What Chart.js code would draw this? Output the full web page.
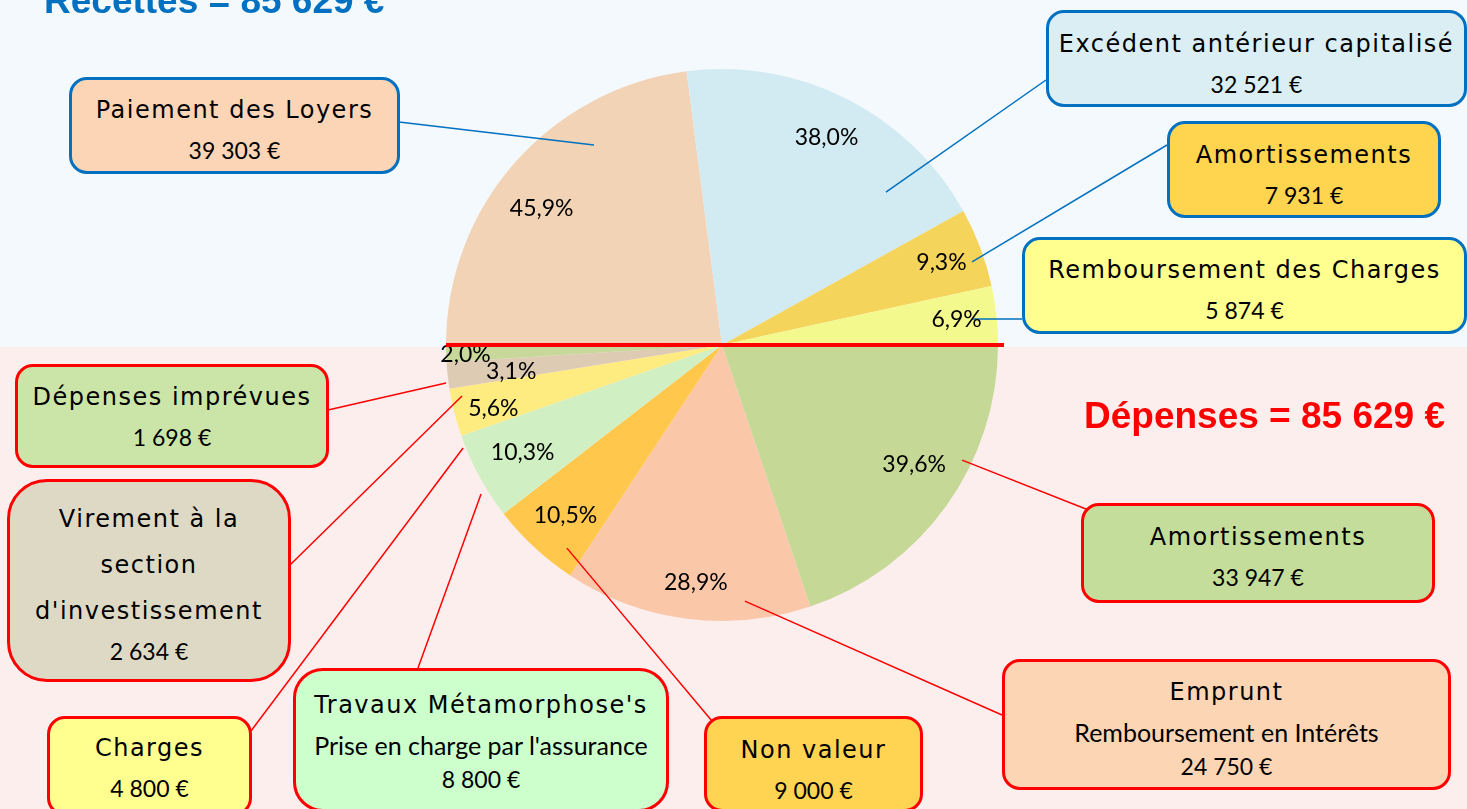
<!DOCTYPE html>
<html lang="fr">
<head>
<meta charset="utf-8">
<script src="https://cdn.jsdelivr.net/npm/chart.js@4/dist/chart.umd.min.js"></script>
<style>
  html, body { margin:0; padding:0; }
  body { width:1467px; height:809px; overflow:hidden; position:relative; font-family:'Lato', sans-serif; }
  .bg { position:absolute; left:0; width:1467px; }
  #c { position:absolute; left:0; top:0; }
  .box { position:absolute; box-sizing:border-box; border:3px solid; border-radius:18px; text-align:center; color:#000; }
  .hand { font-family:'DejaVu Sans', sans-serif; font-size:24px; letter-spacing:1.5px; line-height:46px; white-space:nowrap; }
  .sub { font-family:'Lato', sans-serif; font-size:25px; line-height:34px; white-space:nowrap; }
  .num { font-family:'Lato', sans-serif; font-size:23px; line-height:34px; white-space:nowrap; }
  .title { position:absolute; font-family:'Liberation Sans', Arial, sans-serif; font-weight:bold; font-size:37px; line-height:37px; white-space:nowrap; }
</style>
</head>
<body>
<div class="bg" style="top:0;height:347px;background:#F4F9FE"></div>
<div class="bg" style="top:347px;height:462px;background:#FDEEEE"></div>
<canvas id="c" width="1467" height="809"></canvas>
<div id="overlay"></div>
<script>
// ---------------- DATA ----------------
const recettesLabels = ['Paiement des Loyers', 'Excédent antérieur capitalisé', 'Amortissements', 'Remboursement des Charges'];
const recettesValues = [39303, 32521, 7931, 5874];
const recettesSubtitles = [null, null, null, null];

const depensesLabels = ['Amortissements', 'Emprunt', 'Non valeur', "Travaux Métamorphose's", 'Charges', "Virement à la section d'investissement", 'Dépenses imprévues'];
const depensesValues = [33947, 24750, 9000, 8800, 4800, 2634, 1698];
const depensesSubtitles = [null, 'Remboursement en Intérêts', null, "Prise en charge par l'assurance", null, null, null];

// ---------------- STYLES / LAYOUT ----------------
const recettesColors = ['#F2D3B6', '#D2EAF1', '#F5D45C', '#F4F98E'];
const depensesColors = ['#C6D896', '#FAC8A9', '#FFC84D', '#D0EFC2', '#FFEC80', '#DECBB4', '#C7D89A'];
const recettesBoxFill = ['#FBD5B5', '#DAEEF3', '#FFD54F', '#FFFF8F'];
const depensesBoxFill = ['#C4DD9A', '#FCD5B5', '#FFD452', '#CCFFCC', '#FFFF8F', '#DDD9C4', '#CBE5A8'];
const recettesLineColor = '#0070C0';
const depensesLineColor = '#FF0000';
// label placement: distance from centre (fraction of radius) and position within the slice's angle (0..1)
const recettesLabelR = [0.82, 0.84, 0.85, 0.855];
const recettesLabelT = [0.45, 0.5, 0.5, 0.5];
const depensesLabelR = [0.82, 0.866, 0.84, 0.82, 0.86, 0.77, 0.93];
const depensesLabelT = [0.447, 0.479, 0.48, 0.51, 0.36, 0.34, 0.39];
// callout boxes: position/size, leader anchor (fraction of radius from centre), leader end on box
const recettesBoxes = [
  {x:69,   y:77,  w:331, h:97,  pad:10, anchor:[-0.464,-0.725], end:[399,122]},
  {x:1046, y:10,  w:421, h:97,  pad:11, anchor:[0.594,-0.554],  end:[1046,80]},
  {x:1167, y:121, w:274, h:97,  pad:11, anchor:[0.906,-0.301],  end:[1167,145]},
  {x:1022, y:237, w:445, h:97,  pad:10, anchor:[0.906,-0.094],  end:[1022,319]}
];
const depensesBoxes = [
  {x:1081, y:503, w:354, h:100, pad:11, anchor:[0.870,0.417],   end:[1096,513]},
  {x:1002, y:659, w:449, h:131, pad:10, anchor:[0.083,0.928],   end:[1002,715]},
  {x:704,  y:716, w:219, h:96,  pad:11, anchor:[-0.562,0.736],  end:[717,727]},
  {x:293,  y:668, w:376, h:144, pad:14, r:30, anchor:[-0.873,0.540], end:[418,668]},
  {x:47,   y:716, w:205, h:100, pad:9,  anchor:[-0.938,0.373],  end:[251,731]},
  {x:7,    y:479, w:284, h:203, pad:17, r:40, wrap:245, anchor:[-0.942,0.185], end:[290,565]},
  {x:15,   y:364, w:314, h:104, pad:10, anchor:[-1.0,0.138],    end:[328,410]}
];

// ---------------- HELPERS ----------------
const sum = a => a.reduce((s, v) => s + v, 0);
const fmtEuro = n => String(n).replace(/\B(?=(\d{3})+(?!\d))/g, ' ') + ' €';
const fmtPct = (v, t) => (v / t * 100).toFixed(1).replace('.', ',') + '%';

const recTotal = sum(recettesValues);
const depTotal = sum(depensesValues);

const allValues = recettesValues.concat(depensesValues);
const allColors = recettesColors.concat(depensesColors);
const allLabels = recettesLabels.concat(depensesLabels);
const allTotals = recettesValues.map(() => recTotal).concat(depensesValues.map(() => depTotal));
const allLabelR = recettesLabelR.concat(depensesLabelR);
const allLabelT = recettesLabelT.concat(depensesLabelT);
const allBoxes = recettesBoxes.concat(depensesBoxes);
const allLineColors = recettesValues.map(() => recettesLineColor).concat(depensesValues.map(() => depensesLineColor));

// ---------------- OVERLAY HTML (titles + callouts) ----------------
const overlay = document.getElementById('overlay');
function addTitle(text, color, left, top) {
  const d = document.createElement('div');
  d.className = 'title';
  d.style.left = left + 'px'; d.style.top = top + 'px'; d.style.color = color;
  d.textContent = text;
  overlay.appendChild(d);
}
addTitle('Recettes = ' + fmtEuro(recTotal), '#0070C0', 44, -18);
addTitle('Dépenses = ' + fmtEuro(depTotal), '#FF0000', 1084, 397);

function addBox(b, label, sub, value, fill, border) {
  const d = document.createElement('div');
  d.className = 'box';
  Object.assign(d.style, {left:b.x+'px', top:b.y+'px', width:b.w+'px', height:b.h+'px',
    background:fill, borderColor:border, paddingTop:(b.pad-3)+'px'});
  if (b.r) d.style.borderRadius = b.r + 'px';
  const t = document.createElement('div');
  t.className = 'hand'; t.textContent = label;
  if (b.wrap) { t.style.whiteSpace = 'normal'; t.style.width = b.wrap + 'px'; t.style.margin = '0 auto'; }
  d.appendChild(t);
  if (sub) { const s = document.createElement('div'); s.className = 'sub'; s.textContent = sub; d.appendChild(s); }
  const n = document.createElement('div'); n.className = 'num'; n.textContent = fmtEuro(value); d.appendChild(n);
  overlay.appendChild(d);
}
recettesBoxes.forEach((b, i) => addBox(b, recettesLabels[i], recettesSubtitles[i], recettesValues[i], recettesBoxFill[i], recettesLineColor));
depensesBoxes.forEach((b, i) => addBox(b, depensesLabels[i], depensesSubtitles[i], depensesValues[i], depensesBoxFill[i], depensesLineColor));

// ---------------- CHART ----------------
const decorPlugin = {
  id: 'decor',
  afterDatasetsDraw(chart) {
    const ctx = chart.ctx;
    const arcs = chart.getDatasetMeta(0).data;
    const cx = arcs[0].x, cy = arcs[0].y, r = arcs[0].outerRadius;
    ctx.save();
    // leader lines
    ctx.lineWidth = 1.5;
    allBoxes.forEach((b, i) => {
      ctx.strokeStyle = allLineColors[i];
      ctx.beginPath();
      ctx.moveTo(cx + b.anchor[0] * r, cy + b.anchor[1] * r);
      ctx.lineTo(b.end[0], b.end[1]);
      ctx.stroke();
    });
    // percentage labels
    ctx.fillStyle = '#000';
    ctx.font = '23px Lato';
    ctx.textAlign = 'center';
    ctx.textBaseline = 'middle';
    arcs.forEach((a, i) => {
      const ang = a.startAngle + (a.endAngle - a.startAngle) * allLabelT[i];
      const f = allLabelR[i];
      ctx.fillText(fmtPct(allValues[i], allTotals[i]), cx + Math.cos(ang) * r * f, cy + Math.sin(ang) * r * f);
    });
    // red separator line
    ctx.fillStyle = '#FF0000';
    ctx.fillRect(cx - r, cy - 2, 2 * r + 6, 4);
    ctx.restore();
  }
};

new Chart(document.getElementById('c'), {
  type: 'pie',
  data: {
    labels: allLabels,
    datasets: [{
      data: allValues,
      backgroundColor: allColors,
      borderWidth: 0,
      hoverOffset: 0
    }]
  },
  options: {
    responsive: false,
    animation: false,
    rotation: -90,
    layout: { padding: { left: 446, right: 469, top: 69, bottom: 188 } },
    plugins: { legend: { display: false }, tooltip: { enabled: false } },
    events: []
  },
  plugins: [decorPlugin]
});
</script>
</body>
</html>
